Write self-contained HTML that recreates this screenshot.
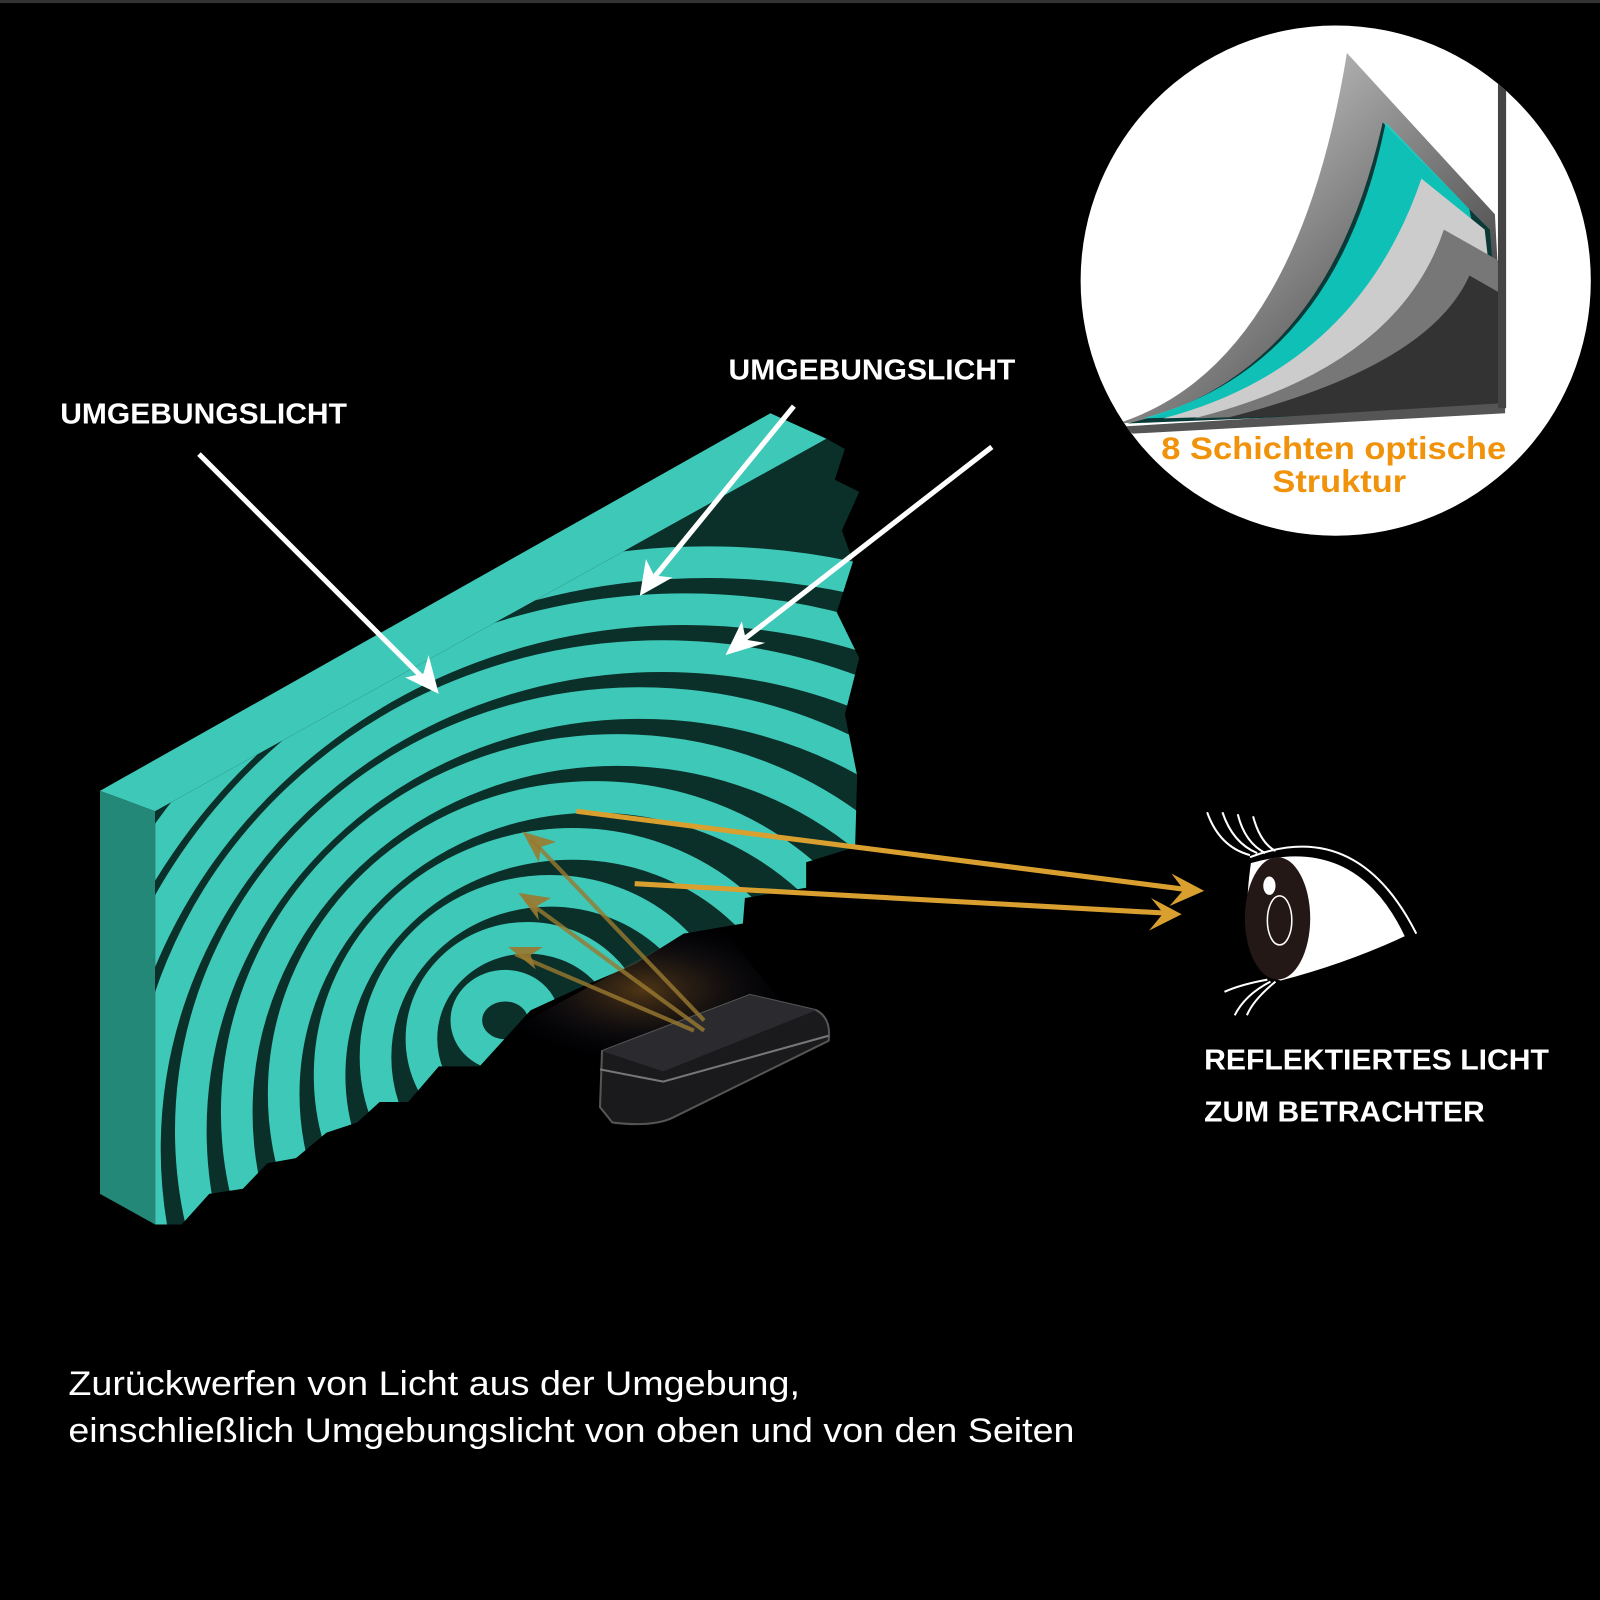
<!DOCTYPE html>
<html><head><meta charset="utf-8"><style>
html,body{margin:0;padding:0;background:#000;overflow:hidden;width:1600px;height:1600px;}
svg{display:block;position:absolute;left:0;top:0;}
text{font-family:"Liberation Sans",Arial,sans-serif;}
</style></head><body>
<svg width="1600" height="1600" viewBox="0 0 1568 1568" xmlns="http://www.w3.org/2000/svg">
<defs>
<clipPath id="face"><path d="M152,795 L810,430 L828,440 L818,470 L842,482 L825,520 L836,550 L820,600 L842,645 L828,700 L840,760 L838,830 L790,845 L790,870 L730,880 L728,905 L670,915 L622,945 L568,968 L520,990 L470,1045 L430,1045 L400,1080 L372,1080 L350,1100 L320,1110 L290,1135 L262,1140 L238,1165 L205,1170 L178,1200 L152,1200 Z"/></clipPath>
<clipPath id="circ"><circle cx="1309" cy="275" r="250"/></clipPath>
<radialGradient id="glow" cx="0.5" cy="0.5" r="0.5"><stop offset="0" stop-color="#c08030" stop-opacity="0.6"/><stop offset="1" stop-color="#102060" stop-opacity="0"/></radialGradient>
<linearGradient id="g1" x1="0" y1="0" x2="1" y2="1"><stop offset="0" stop-color="#e8e8e8"/><stop offset="1" stop-color="#222"/></linearGradient>
</defs>
<rect width="1568" height="1568" fill="#000"/>
<rect width="1568" height="3" fill="#333"/>

<path d="M98,775 L755,405 L810,430 L152,795 Z" fill="#3ec8b8"/>
<path d="M98,775 L152,795 L152,1200 L98,1170 Z" fill="#248878"/>
<path d="M152,795 L810,430 L828,440 L818,470 L842,482 L825,520 L836,550 L820,600 L842,645 L828,700 L840,760 L838,830 L790,845 L790,870 L730,880 L728,905 L670,915 L622,945 L568,968 L520,990 L470,1045 L430,1045 L400,1080 L372,1080 L350,1100 L320,1110 L290,1135 L262,1140 L238,1165 L205,1170 L178,1200 L152,1200 Z" fill="#0b302a"/>
<g clip-path="url(#face)" fill="none" stroke="#3ec8b8" stroke-width="31">
<ellipse cx="495" cy="1000" rx="38" ry="34"/>
<ellipse cx="517" cy="1018" rx="104" ry="99"/>
<ellipse cx="539" cy="1036" rx="171" ry="163"/>
<ellipse cx="561" cy="1054" rx="238" ry="227"/>
<ellipse cx="583" cy="1072" rx="305" ry="291"/>
<ellipse cx="605" cy="1090" rx="373" ry="355"/>
<ellipse cx="627" cy="1108" rx="440" ry="419"/>
<ellipse cx="649" cy="1126" rx="507" ry="483"/>
<ellipse cx="671" cy="1144" rx="574" ry="547"/>
<ellipse cx="693" cy="1162" rx="641" ry="611"/>
</g>

<polygon points="480,1020 700,900 780,1000 600,1040" fill="url(#glow)" opacity="0.7"/>
<path d="M590,1030 L735,975 L800,990 Q815,998 812,1020 L660,1095 Q640,1105 600,1100 L588,1085 Z" fill="#1a1a1c" stroke="#555" stroke-width="2"/>
<path d="M590,1030 L735,975 L800,990 L650,1050 Z" fill="#2b2b2f"/>
<path d="M588,1048 L650,1060 L812,1015" fill="none" stroke="#777" stroke-width="2"/>

<g stroke="#9a7a30" stroke-width="4" opacity="0.8">
<line x1="690" y1="1000" x2="520" y2="822"/>
<line x1="690" y1="1010" x2="515" y2="882"/>
<line x1="680" y1="1010" x2="505" y2="935"/>
</g>
<g fill="#9a7a30" opacity="0.9">
<path d="M512,815 L545,825 L530,830 L528,845 Z"/>
<path d="M508,875 L540,880 L526,888 L528,902 Z"/>
<path d="M498,928 L532,928 L520,936 L525,950 Z"/>
</g>

<g stroke="#d9a030" stroke-width="5">
<line x1="565" y1="795" x2="1165" y2="872"/>
<line x1="622" y1="866" x2="1145" y2="895"/>
</g>
<path d="M1180,873 L1148,856 L1160,872 L1146,888 Z" fill="#d9a030"/>
<path d="M1158,896 L1128,880 L1140,895 L1126,912 Z" fill="#d9a030"/>

<g stroke="#fff" stroke-width="5">
<line x1="195" y1="445" x2="420" y2="670"/>
<line x1="778" y1="398" x2="636" y2="572"/>
<line x1="972" y1="438" x2="722" y2="632"/>
</g>
<path d="M430,680 L397,664 L415,660 L420,642 Z" fill="#fff"/>
<path d="M627,584 L633,548 L641,564 L659,566 Z" fill="#fff"/>
<path d="M711,642 L727,609 L731,627 L750,630 Z" fill="#fff"/>

<text x="59" y="415" font-size="28" font-weight="bold" fill="#fff" textLength="281" lengthAdjust="spacingAndGlyphs">UMGEBUNGSLICHT</text>
<text x="714" y="372" font-size="28" font-weight="bold" fill="#fff" textLength="281" lengthAdjust="spacingAndGlyphs">UMGEBUNGSLICHT</text>
<text x="1180" y="1048" font-size="28" font-weight="bold" fill="#fff" textLength="338" lengthAdjust="spacingAndGlyphs">REFLEKTIERTES LICHT</text>
<text x="1180" y="1099" font-size="28" font-weight="bold" fill="#fff" textLength="275" lengthAdjust="spacingAndGlyphs">ZUM BETRACHTER</text>
<text x="67" y="1367" font-size="34" fill="#fff" textLength="717" lengthAdjust="spacingAndGlyphs">Zurückwerfen von Licht aus der Umgebung,</text>
<text x="67" y="1413" font-size="34" fill="#fff" textLength="986" lengthAdjust="spacingAndGlyphs">einschließlich Umgebungslicht von oben und von den Seiten</text>

<g fill="none" stroke="#fff" stroke-width="2">
<path d="M1225,840 Q1330,800 1388,915"/>
<path d="M1183,796 Q1195,830 1225,838"/>
<path d="M1198,796 Q1208,826 1232,836"/>
<path d="M1213,798 Q1220,826 1240,836"/>
<path d="M1228,800 Q1235,826 1250,834"/>
<path d="M1242,960 Q1215,965 1200,972"/>
<path d="M1245,962 Q1220,975 1210,995"/>
<path d="M1250,962 Q1228,980 1222,995"/>
</g>
<path d="M1225,845 Q1330,815 1378,918 Q1320,945 1255,962 Q1210,950 1225,845 Z" fill="#fff" stroke="#000" stroke-width="2"/>
<ellipse cx="1252" cy="900" rx="32" ry="60" fill="#231815"/>
<ellipse cx="1254" cy="902" rx="12" ry="24" fill="none" stroke="#fff" stroke-width="1.5"/>
<ellipse cx="1244" cy="868" rx="6" ry="9" fill="#fff"/>

<circle cx="1309" cy="275" r="250" fill="#fff"/>
<g clip-path="url(#circ)">
<path d="M1095,415 Q1270,360 1320,52 L1465,210 L1475,395 Z" fill="url(#g1)"/>
<path d="M1105,415 Q1300,370 1355,120 L1460,225 L1475,400 Z" fill="#0a3a38"/>
<path d="M1120,410 Q1310,360 1358,120 L1440,205 L1475,400 Z" fill="#0fd8cc" opacity="0.85"/>
<path d="M1140,410 Q1330,360 1393,175 L1455,225 L1475,400 Z" fill="#ccc"/>
<path d="M1170,410 Q1370,360 1415,225 L1468,255 L1475,400 Z" fill="#777"/>
<path d="M1200,410 Q1400,360 1440,270 L1475,290 L1475,400 Z" fill="#333"/>
<path d="M1100,418 L1475,395 L1475,405 L1110,425 Z" fill="#555"/>
<rect x="1468" y="80" width="8" height="320" fill="#444"/>
</g>
<text x="1138" y="450" font-size="31" font-weight="bold" fill="#f0920a" textLength="338" lengthAdjust="spacingAndGlyphs">8 Schichten optische</text>
<text x="1247" y="482" font-size="31" font-weight="bold" fill="#f0920a" textLength="131" lengthAdjust="spacingAndGlyphs">Struktur</text>
</svg>
</body></html>
